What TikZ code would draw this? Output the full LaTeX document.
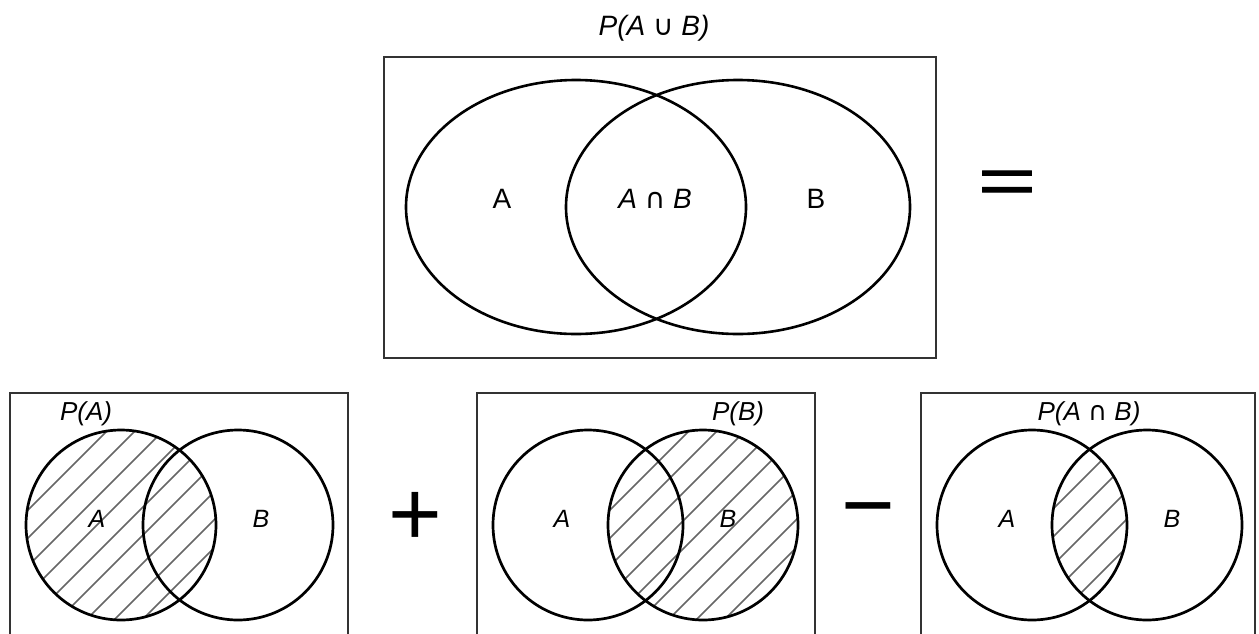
\documentclass[tikz,border=0pt]{standalone}
\usepackage{fontspec}
\setmainfont{Liberation Sans}
\newfontfamily\symfont{DejaVu Sans}
\newfontfamily\eqfont{Liberation Sans}[FakeBold=1.3]
\usetikzlibrary{shapes.geometric}
\begin{document}
\begin{tikzpicture}[x=1pt,y=-1pt,
  frame/.style={draw=black!80, line width=2pt, rectangle, inner sep=0pt},
  circ/.style={circle, draw=black, line width=2.7pt, minimum size=190pt, inner sep=0pt},
  oval/.style={ellipse, draw=black, line width=2.6pt, inner sep=0pt, minimum height=254pt},
  hatchline/.style={draw=black!60, line width=1.7pt},
  title/.style={anchor=base, inner sep=0pt, font=\fontsize{28}{32}\selectfont\itshape},
  plbl/.style={anchor=base, inner sep=0pt, font=\fontsize{26}{30}\selectfont\itshape},
  biglbl/.style={anchor=base, inner sep=0pt, font=\fontsize{28}{32}\selectfont},
  smalllbl/.style={anchor=base, inner sep=0pt, font=\fontsize{25}{29}\selectfont\itshape},
  opsign/.style={inner sep=0pt, font=\fontsize{92}{100}\selectfont}
]
\clip (0,0) rectangle (1259,633);
\fill[white] (0,0) rectangle (1259,633);

% ---------- top panel ----------
\node[frame, minimum width=552pt, minimum height=301pt] (topbox) at (660,207.5) {};
\node[oval, minimum width=340pt] (ovA) at (576,207) {};
\node[oval, minimum width=344pt] (ovB) at (738,207) {};
\node[title] (ttop) at (654,35) {P(A {\symfont\upshape ∪} B)};
\node[biglbl] (la) at (502,208) {A};
\node[biglbl, font=\fontsize{28}{32}\selectfont\itshape] (lab) at (655,208) {A {\symfont\upshape ∩} B};
\node[biglbl] (lb) at (816,208) {B};
\node[opsign, font=\fontsize{92}{100}\eqfont, xscale=1.08, yscale=0.72, transform shape] (eq) at (1007,187) {=};

% ---------- bottom panel 1 : P(A) ----------
\node[frame, minimum width=338pt, minimum height=267pt] (box1) at (179,526.5) {};
\begin{scope}
  \clip (121,525) circle (95);
  \foreach \k in {-7,...,7}
    \draw[hatchline] ({650+\k*28-300},300) -- ({650+\k*28-700},700);
\end{scope}
\node[circ] (c1a) at (121,525) {};
\node[circ] (c1b) at (238,525) {};
\node[plbl] (t1) at (86,420) {P(A)};
\node[smalllbl] (l1a) at (97,527) {A};
\node[smalllbl] (l1b) at (261,527) {B};

\node[opsign] (plus) at (415,519) {+};

% ---------- bottom panel 2 : P(B) ----------
\node[frame, minimum width=338pt, minimum height=267pt] (box2) at (646,526.5) {};
\begin{scope}
  \clip (703,525) circle (95);
  \foreach \k in {-7,...,7}
    \draw[hatchline] ({1232+\k*28-300},300) -- ({1232+\k*28-700},700);
\end{scope}
\node[circ] (c2a) at (588,525) {};
\node[circ] (c2b) at (703,525) {};
\node[plbl] (t2) at (738,420) {P(B)};
\node[smalllbl] (l2a) at (562,527) {A};
\node[smalllbl] (l2b) at (728,527) {B};

\node[opsign] (minus) at (868,520) {−};

% ---------- bottom panel 3 : P(A n B) ----------
\node[frame, minimum width=334pt, minimum height=267pt] (box3) at (1088,526.5) {};
\begin{scope}
  \clip (1032,525) circle (95);
  \clip (1147,525) circle (95);
  \foreach \k in {-7,...,7}
    \draw[hatchline] ({1618+\k*28-300},300) -- ({1618+\k*28-700},700);
\end{scope}
\node[circ] (c3a) at (1032,525) {};
\node[circ] (c3b) at (1147,525) {};
\node[plbl] (t3) at (1089,420) {P(A {\symfont\upshape ∩} B)};
\node[smalllbl] (l3a) at (1007,527) {A};
\node[smalllbl] (l3b) at (1172,527) {B};
\end{tikzpicture}
\end{document}
